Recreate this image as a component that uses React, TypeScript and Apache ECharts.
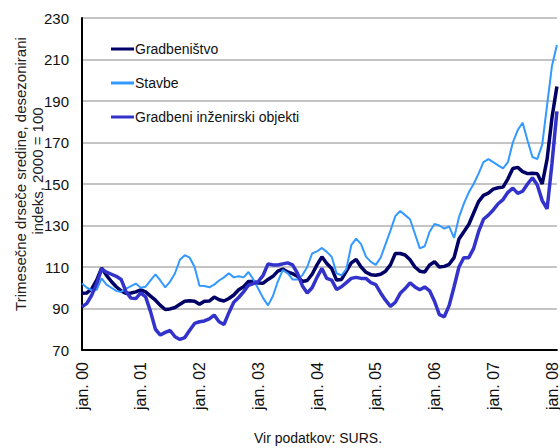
import React, { useEffect, useRef } from "react";
import * as echarts from "echarts";

const monthNames = ["jan", "feb", "mar", "apr", "maj", "jun", "jul", "avg", "sep", "okt", "nov", "dec"];
const years = ["00", "01", "02", "03", "04", "05", "06", "07", "08"];
const monthCount = 98;

const categories: string[] = [];
for (let i = 0; i < monthCount; i++) {
  categories.push(`${monthNames[i % 12]}. ${years[Math.floor(i / 12)]}`);
}

const gradbenistvo = [
  97.3, 97.5, 99.5, 103.7, 109.5, 106, 103, 100.5, 98.5, 97.3, 97.5, 98,
  99, 98, 96, 94, 91.5, 89.5, 89.8, 90.5, 92, 93.5, 93.7, 93.5,
  92, 93.5, 93.6, 95.5, 94.2, 93.6, 94.8, 96.5, 99, 100.5, 103, 103,
  102.3, 102.2, 104, 105.5, 108, 109, 107.6, 106.8, 105.5, 103, 103.5, 106.5,
  111, 114.9, 111.7, 109.3, 103.7, 104, 108, 112, 113.6, 110, 107.5, 106.3,
  106, 106.5, 108, 111, 116.5, 116.5, 115.8, 113.5, 110, 108, 107.6, 111,
  112.5, 110, 110.3, 111.3, 114.5, 123.5, 127, 130.5, 136, 141.5, 144.5, 145.6,
  147.5, 148.2, 148.5, 152.5, 157.5, 158, 156, 155, 155.2, 155, 150, 162,
  182, 197,
];

const stavbe = [
  102, 100, 98.8, 99, 104.5, 101.5, 100, 98.5, 98, 99.6, 100.8, 102,
  100, 100.5, 103.5, 106.5, 103.5, 100.2, 103, 107, 113.5, 115.7, 114.5, 110,
  101, 100.8, 100.2, 101.5, 103.5, 105, 107, 105, 105.5, 105, 107.6, 104,
  99.5, 95, 91.5, 96, 103, 108.5, 107, 104, 104, 106, 110, 116.5,
  117.5, 119.2, 117.3, 114.9, 107, 106, 109, 120.5, 123.7, 121, 115, 112.5,
  111, 114.5, 121, 127.5, 134.5, 137, 135, 133, 126, 119, 120, 127,
  130.7, 130, 128.5, 129.5, 124, 134, 140.5, 146, 150, 155, 160.5, 162,
  160.5, 159, 157.5, 160.5, 170, 176, 179.5, 171, 163, 162, 169, 188,
  207, 217,
];

const inzenirskiObjekti = [
  90.8, 92.5, 96.5, 102, 109, 107.5, 106.5, 105.5, 104, 98, 95, 94.8,
  97.5, 95.6, 88.5, 80, 77.2, 78.5, 79.4, 76.4, 75.1, 76, 79.5, 82.8,
  83.6, 84, 85, 86.8, 83.6, 82.3, 88, 93, 95.3, 98, 101.2, 102,
  103, 106, 111.5, 111, 111, 111.5, 112, 111, 107, 101, 97.5, 100,
  105, 109.3, 104.5, 103.7, 99.2, 100.5, 102.5, 104.5, 105, 104.5, 104.5, 102.5,
  101.5, 97.5, 94, 91, 93, 97.3, 99.6, 102.4, 100.4, 99, 100.4, 98.5,
  93.5, 87, 86, 91.5, 100.5, 110, 114.5, 114.5, 119, 127, 133, 135,
  137.5, 140.5, 142.5, 146, 148, 145.5, 146.5, 150, 153, 149.5, 142, 138,
  160, 185,
];

const seriesNames = ["Gradbeništvo", "Stavbe", "Gradbeni inženirski objekti"];
const seriesColors = ["#000066", "#3399ff", "#3333cc"];
const seriesWidths = [3.5, 2, 3.5];

const yMin = 70;
const yMax = 230;
const yStep = 20;

const axisTitleLines = ["Trimesečne drseče sredine, desezonirani", "indeks, 2000 = 100"];
const sourceText = "Vir podatkov: SURS.";

const FONT = "'Liberation Sans', Arial, sans-serif";

export default function App() {
  const ref = useRef<HTMLDivElement>(null);

  useEffect(() => {
    if (!ref.current) return;
    const chart = echarts.init(ref.current, undefined, { renderer: "svg" });
    const dataSets = [gradbenistvo, stavbe, inzenirskiObjekti];
    chart.setOption({
      animation: false,
      backgroundColor: "#ffffff",
      textStyle: { fontFamily: FONT },
      grid: { left: 82, right: 3, top: 18, bottom: 98, containLabel: false },
      legend: {
        orient: "vertical",
        left: 106,
        top: 37,
        icon: "rect",
        itemWidth: 23,
        itemHeight: 3,
        itemGap: 20,
        textStyle: { fontFamily: FONT, fontSize: 14, color: "#111", padding: [0, 0, 0, -4] },
        data: seriesNames,
      },
      xAxis: {
        type: "category",
        data: categories,
        boundaryGap: false,
        axisLine: { show: true, lineStyle: { color: "#000", width: 2 } },
        axisTick: { show: false },
        splitLine: { show: false },
        axisLabel: {
          interval: 11,
          rotate: 90,
          margin: 12,
          fontSize: 16,
          color: "#111",
          fontFamily: FONT,
        },
      },
      yAxis: {
        type: "value",
        min: yMin,
        max: yMax,
        interval: yStep,
        axisLine: { show: true, lineStyle: { color: "#000", width: 2 } },
        axisTick: { show: false },
        splitLine: { show: true, lineStyle: { color: "#b0b0b0", width: 1.5 } },
        axisLabel: { margin: 13, fontSize: 15, color: "#111", fontFamily: FONT },
      },
      series: dataSets.map((d, k) => ({
        name: seriesNames[k],
        type: "line",
        data: d,
        symbol: "none",
        showSymbol: false,
        lineStyle: { color: seriesColors[k], width: seriesWidths[k] },
        itemStyle: { color: seriesColors[k] },
        z: 2 + k,
      })),
      graphic: [
        {
          type: "text",
          x: 20,
          y: 174,
          rotation: Math.PI / 2,
          style: {
            text: axisTitleLines[0],
            fontSize: 15,
            fontFamily: FONT,
            fill: "#222",
            textAlign: "center",
            textVerticalAlign: "middle",
          },
        },
        {
          type: "text",
          x: 37,
          y: 171,
          rotation: Math.PI / 2,
          style: {
            text: axisTitleLines[1],
            fontSize: 15,
            fontFamily: FONT,
            fill: "#222",
            textAlign: "center",
            textVerticalAlign: "middle",
          },
        },
        {
          type: "text",
          x: 318,
          y: 438,
          style: {
            text: sourceText,
            fontSize: 14,
            fontFamily: FONT,
            fill: "#111",
            textAlign: "center",
            textVerticalAlign: "middle",
          },
        },
      ],
    });
    return () => chart.dispose();
  }, []);

  return (
    <div
      ref={ref}
      style={{ position: "fixed", left: 0, top: 0, width: 560, height: 448 }}
    />
  );
}
